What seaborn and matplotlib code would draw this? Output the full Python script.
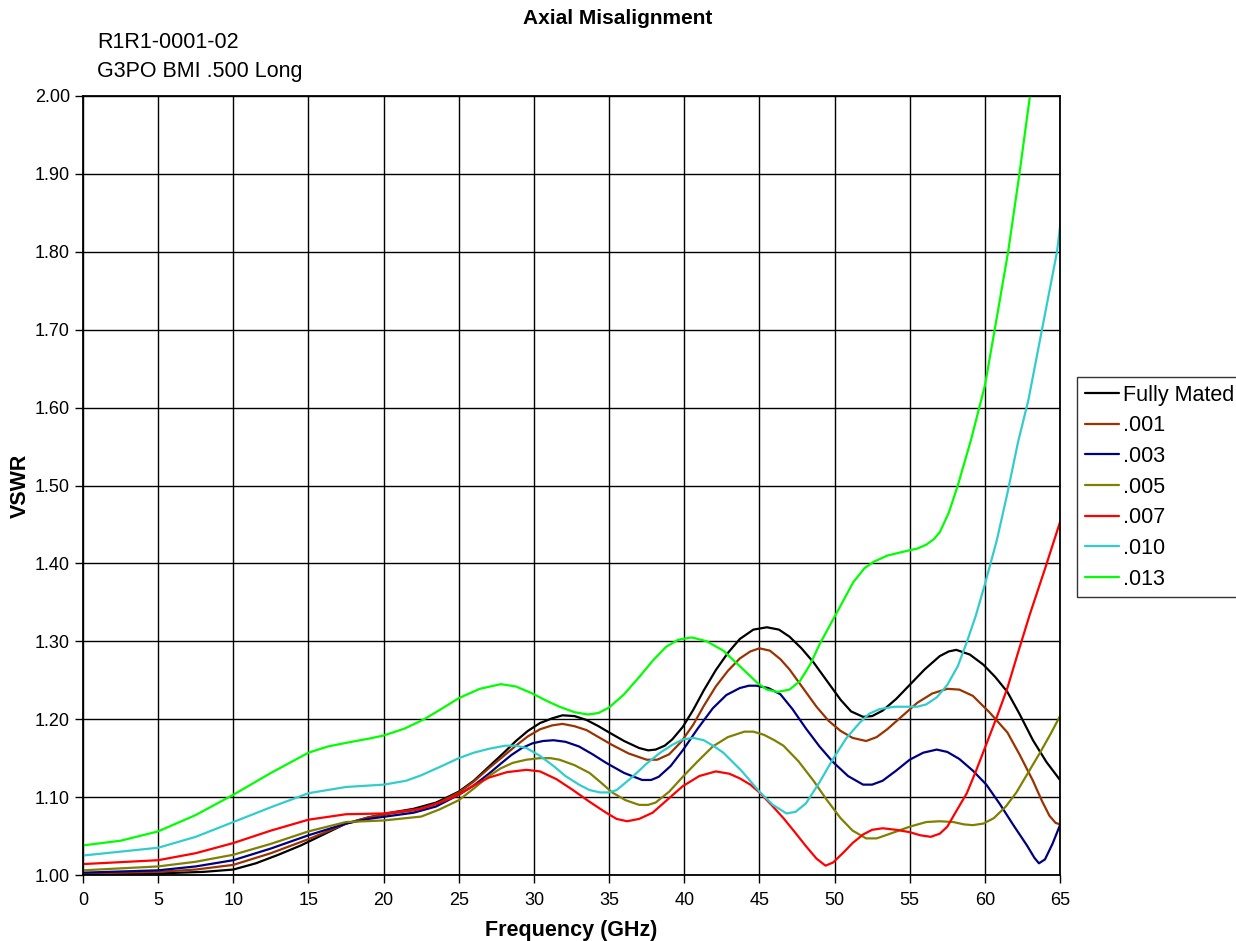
import matplotlib
matplotlib.use("Agg")
import matplotlib.pyplot as plt
import seaborn as sns
import pandas as pd

# series labels and colours (Excel-ish palette)
series_names = ["Fully Mated", ".001", ".003", ".005", ".007", ".010", ".013"]
series_colors = ["#000000", "#993300", "#000080", "#808000", "#FF0000", "#33CCCC", "#00FF00"]

# values, frequency in GHz
freq_mated = [0, 5, 8, 10, 11.5, 13, 14.5, 16, 17.5, 19, 20.5, 22, 23.5, 25, 26, 27, 28, 28.8, 29.6,
              30.4, 31.2, 31.9, 32.7, 33.5, 34.3, 35, 36, 37, 37.6, 38.1, 38.7, 39.2, 39.9, 40.6, 41.3,
              42.1, 42.9, 43.7, 44.6, 45.5, 46.3, 47, 47.8, 48.6, 49.5, 50.4, 51.1, 51.9, 52.5, 53.2,
              54.1, 55, 56, 57, 57.6, 58.1, 59, 59.9, 60.7, 61.5, 62.3, 63.2, 64.1, 65]
vswr_mated = [1.001, 1.002, 1.004, 1.007, 1.015, 1.026, 1.038, 1.052, 1.066, 1.074, 1.080, 1.085, 1.093,
              1.107, 1.121, 1.139, 1.157, 1.172, 1.185, 1.195, 1.201, 1.205, 1.204, 1.199, 1.191, 1.183,
              1.172, 1.163, 1.160, 1.161, 1.166, 1.174, 1.190, 1.212, 1.237, 1.263, 1.285, 1.303, 1.315,
              1.318, 1.315, 1.306, 1.291, 1.273, 1.249, 1.225, 1.210, 1.203, 1.204, 1.211, 1.226, 1.244,
              1.264, 1.281, 1.287, 1.289, 1.283, 1.270, 1.254, 1.235, 1.207, 1.173, 1.145, 1.122]

freq_001 = [0, 5, 7.5, 10, 12.5, 15, 17.5, 19, 20.5, 22, 23.5, 25, 26, 27, 28, 28.8, 29.6, 30.4, 31.2,
            31.9, 32.7, 33.5, 34.3, 35.2, 36.3, 37.5, 38.2, 39, 39.8, 40.6, 41.3, 42.1, 42.9, 43.7, 44.4,
            45, 45.7, 46.4, 47, 47.9, 48.8, 49.6, 50.4, 51.2, 52.1, 52.8, 53.5, 54.5, 55.5, 56.5, 57.5,
            58.3, 59.2, 60.3, 61.5, 62.3, 63.2, 63.8, 64.3, 64.7, 65]
vswr_001 = [1.002, 1.004, 1.007, 1.013, 1.028, 1.046, 1.066, 1.074, 1.079, 1.083, 1.091, 1.106, 1.120,
            1.137, 1.153, 1.166, 1.178, 1.187, 1.192, 1.194, 1.191, 1.186, 1.177, 1.167, 1.156, 1.148,
            1.148, 1.155, 1.171, 1.193, 1.217, 1.242, 1.262, 1.278, 1.287, 1.291, 1.288, 1.277, 1.264,
            1.240, 1.216, 1.198, 1.185, 1.176, 1.172, 1.177, 1.187, 1.204, 1.221, 1.233, 1.239, 1.238,
            1.230, 1.209, 1.183, 1.155, 1.121, 1.095, 1.076, 1.067, 1.065]

freq_003 = [0, 5, 7.5, 10, 12.5, 15, 17.5, 19, 20.5, 22, 23.5, 25, 26, 27, 27.8, 28.5, 29.2, 29.9, 30.6,
            31.3, 32.1, 33, 33.9, 34.8, 36, 37.2, 37.8, 38.3, 39.1, 39.9, 40.9, 41.9, 42.8, 43.7, 44.3,
            44.8, 45.6, 46.4, 47.2, 48.1, 49, 49.9, 50.9, 51.9, 52.5, 53.2, 54.1, 55, 55.9, 56.8, 57.5,
            58.3, 59.2, 60.1, 61, 61.9, 62.8, 63.3, 63.6, 64, 64.5, 65]
vswr_003 = [1.003, 1.006, 1.011, 1.019, 1.034, 1.051, 1.066, 1.072, 1.076, 1.080, 1.088, 1.103, 1.115,
            1.130, 1.143, 1.154, 1.163, 1.169, 1.172, 1.173, 1.171, 1.165, 1.155, 1.144, 1.131, 1.122,
            1.122, 1.126, 1.140, 1.160, 1.188, 1.214, 1.231, 1.240, 1.243, 1.243, 1.240, 1.232, 1.213,
            1.188, 1.165, 1.145, 1.127, 1.116, 1.116, 1.121, 1.134, 1.148, 1.157, 1.161, 1.158, 1.149,
            1.134, 1.116, 1.091, 1.064, 1.038, 1.022, 1.015, 1.020, 1.040, 1.064]

freq_005 = [0, 5, 7.5, 10, 12.5, 15, 17.5, 20, 22.5, 23.7, 25, 26, 27, 27.8, 28.6, 29.5, 30.4, 31.1,
            31.7, 32.7, 33.7, 34.5, 35.2, 36.1, 37, 37.6, 38.1, 39, 39.9, 40.9, 41.9, 42.9, 44, 44.6,
            45.3, 46, 46.6, 47.6, 48.6, 49.5, 50.4, 51.2, 52.1, 52.8, 53.7, 55, 56.1, 57, 57.9, 58.6,
            59.2, 59.9, 60.6, 61.4, 62.1, 62.9, 63.7, 64.4, 65]
vswr_005 = [1.006, 1.011, 1.017, 1.026, 1.040, 1.056, 1.068, 1.070, 1.075, 1.084, 1.096, 1.111, 1.127,
            1.137, 1.144, 1.148, 1.150, 1.150, 1.148, 1.141, 1.131, 1.118, 1.106, 1.096, 1.090, 1.090,
            1.093, 1.107, 1.126, 1.146, 1.165, 1.177, 1.184, 1.184, 1.180, 1.173, 1.166, 1.146, 1.121,
            1.096, 1.073, 1.057, 1.047, 1.047, 1.053, 1.062, 1.068, 1.069, 1.068, 1.065, 1.064, 1.066,
            1.073, 1.088, 1.106, 1.132, 1.158, 1.182, 1.204]

freq_007 = [0, 5, 7.5, 10, 12.5, 15, 17.5, 20, 22.5, 24, 25, 26, 27, 28.2, 29.5, 30.4, 31.5, 32.6,
            33.7, 34.8, 35.5, 36.2, 37, 37.9, 38.9, 39.9, 41, 42.1, 43, 43.7, 44.4, 45, 45.8, 46.6,
            47.4, 48.1, 48.8, 49.4, 49.9, 50.6, 51.2, 51.9, 52.5, 53.2, 54.1, 55, 55.7, 56.4, 57, 57.5,
            58.1, 58.8, 59.4, 60.1, 60.8, 61.5, 62.2, 63, 64, 65]
vswr_007 = [1.014, 1.019, 1.028, 1.041, 1.057, 1.071, 1.078, 1.079, 1.085, 1.095, 1.103, 1.115, 1.125,
            1.132, 1.135, 1.133, 1.123, 1.109, 1.094, 1.080, 1.072, 1.069, 1.072, 1.080, 1.097, 1.114,
            1.127, 1.133, 1.130, 1.124, 1.116, 1.106, 1.090, 1.073, 1.054, 1.037, 1.021, 1.012, 1.016,
            1.029, 1.041, 1.052, 1.058, 1.060, 1.058, 1.055, 1.051, 1.049, 1.053, 1.062, 1.082, 1.105,
            1.133, 1.168, 1.203, 1.240, 1.285, 1.335, 1.393, 1.453]

freq_010 = [0, 5, 7.5, 10, 12.5, 15, 17.5, 20, 21.5, 22.5, 24, 25, 26, 27, 28.1, 28.8, 29.5, 30.4,
            31.3, 32.1, 33, 33.7, 34.4, 35, 35.5, 36.5, 37.5, 38.4, 39.2, 39.9, 40.6, 41.3, 42, 42.6,
            43.8, 45, 45.9, 46.8, 47.4, 48.1, 49, 49.9, 50.8, 51.7, 52.3, 53, 54, 54.8, 55.5, 56.1,
            56.8, 57.5, 58.2, 58.8, 59.4, 60, 60.8, 61.5, 62.2, 62.9, 63.8, 64.8, 65]
vswr_010 = [1.025, 1.035, 1.049, 1.068, 1.087, 1.105, 1.113, 1.116, 1.121, 1.128, 1.141, 1.150, 1.157,
            1.162, 1.166, 1.166, 1.163, 1.153, 1.140, 1.127, 1.116, 1.109, 1.106, 1.106, 1.109, 1.125,
            1.143, 1.157, 1.167, 1.174, 1.176, 1.173, 1.165, 1.157, 1.134, 1.107, 1.090, 1.079, 1.081,
            1.092, 1.119, 1.149, 1.176, 1.196, 1.207, 1.213, 1.216, 1.216, 1.216, 1.219, 1.228, 1.244,
            1.268, 1.299, 1.333, 1.373, 1.430, 1.490, 1.555, 1.610, 1.700, 1.800, 1.832]

freq_013 = [0, 2.5, 5, 7.5, 10, 12.5, 15, 16.3, 17.6, 19, 20, 21.4, 22.7, 24, 25, 26.4, 27.8, 28.8,
            29.9, 30.8, 31.7, 32.7, 33.6, 34.3, 35, 36, 37, 37.9, 38.8, 39.6, 40.5, 41.5, 42.6, 43.7,
            44.9, 45.5, 46.2, 47, 47.7, 48.4, 49, 50.1, 51.25, 52, 52.6, 53.5, 54.8, 55.5, 56.1, 56.6,
            57, 57.6, 58.2, 59.1, 60, 60.7, 61.55, 62.3, 63]
vswr_013 = [1.038, 1.044, 1.056, 1.077, 1.103, 1.131, 1.157, 1.165, 1.170, 1.175, 1.179, 1.188, 1.200,
            1.215, 1.227, 1.239, 1.245, 1.242, 1.233, 1.224, 1.216, 1.209, 1.206, 1.208, 1.215, 1.232,
            1.254, 1.275, 1.293, 1.302, 1.305, 1.300, 1.288, 1.268, 1.246, 1.238, 1.235, 1.238, 1.249,
            1.271, 1.296, 1.335, 1.376, 1.394, 1.402, 1.410, 1.416, 1.419, 1.424, 1.431, 1.440, 1.465,
            1.500, 1.560, 1.628, 1.705, 1.800, 1.900, 2.000]

all_freqs = [freq_mated, freq_001, freq_003, freq_005, freq_007, freq_010, freq_013]
all_vswr = [vswr_mated, vswr_001, vswr_003, vswr_005, vswr_007, vswr_010, vswr_013]

x_ticks = list(range(0, 66, 5))
y_ticks = [1.00, 1.10, 1.20, 1.30, 1.40, 1.50, 1.60, 1.70, 1.80, 1.90, 2.00]

frames = []
for name, f, v in zip(series_names, all_freqs, all_vswr):
    frames.append(pd.DataFrame({"freq": f, "vswr": v, "series": name}))
df = pd.concat(frames, ignore_index=True)

sns.set_style("white")
plt.rcParams["font.family"] = ["Liberation Sans", "DejaVu Sans"]
plt.rcParams["text.color"] = "black"
plt.rcParams["axes.labelcolor"] = "black"
plt.rcParams["xtick.color"] = "black"
plt.rcParams["ytick.color"] = "black"

fig = plt.figure(figsize=(12.36, 9.41), dpi=100)
ax = fig.add_axes([83 / 1236, 1 - 875 / 941, (1060 - 83) / 1236, (875 - 96) / 941])

sns.lineplot(data=df, x="freq", y="vswr", hue="series", hue_order=series_names,
             palette=dict(zip(series_names, series_colors)), estimator=None, sort=False,
             linewidth=1.6, ax=ax, legend=False)
for ln in ax.get_lines():
    ln.set_solid_joinstyle("round")

ax.set_xlim(0, 65)
ax.set_ylim(1.0, 2.0)
ax.set_xticks(x_ticks)
ax.set_yticks(y_ticks)
ax.set_yticklabels([f"{t:.2f}" for t in y_ticks])
ax.tick_params(axis="both", labelsize=13, direction="out", length=6, width=1,
               bottom=True, left=True)
ax.tick_params(axis="x", pad=6)
ax.grid(True, color="black", linewidth=1.0)
ax.set_axisbelow(True)
for sp in ax.spines.values():
    sp.set_color("black")
    sp.set_linewidth(1.3)

ax.set_xlabel("Frequency (GHz)", fontsize=15.5, fontweight="bold", labelpad=8)
ax.set_ylabel("VSWR", fontsize=15.5, fontweight="bold", labelpad=3)

fig.text(0.5, 1 - 18 / 941, "Axial Misalignment", ha="center", va="center",
         fontsize=15, fontweight="bold")
fig.text(97 / 1236, 1 - 43 / 941, "R1R1-0001-02", ha="left", va="center", fontsize=15.5)
fig.text(97 / 1236, 1 - 71 / 941, "G3PO BMI .500 Long", ha="left", va="center", fontsize=15.5)

handles = [plt.Line2D([], [], color=c, linewidth=1.6) for c in series_colors]
leg = fig.legend(handles, series_names, loc="upper left", bbox_to_anchor=(1077 / 1236, 1 - 377 / 941),
                 fontsize=15.5, frameon=True, fancybox=False, handlelength=1.6, handletextpad=0.2,
                 labelspacing=0.45, borderpad=0.35, borderaxespad=0)
leg.get_frame().set_edgecolor("black")
leg.get_frame().set_linewidth(1.0)

fig.savefig("out.png", dpi=100)
